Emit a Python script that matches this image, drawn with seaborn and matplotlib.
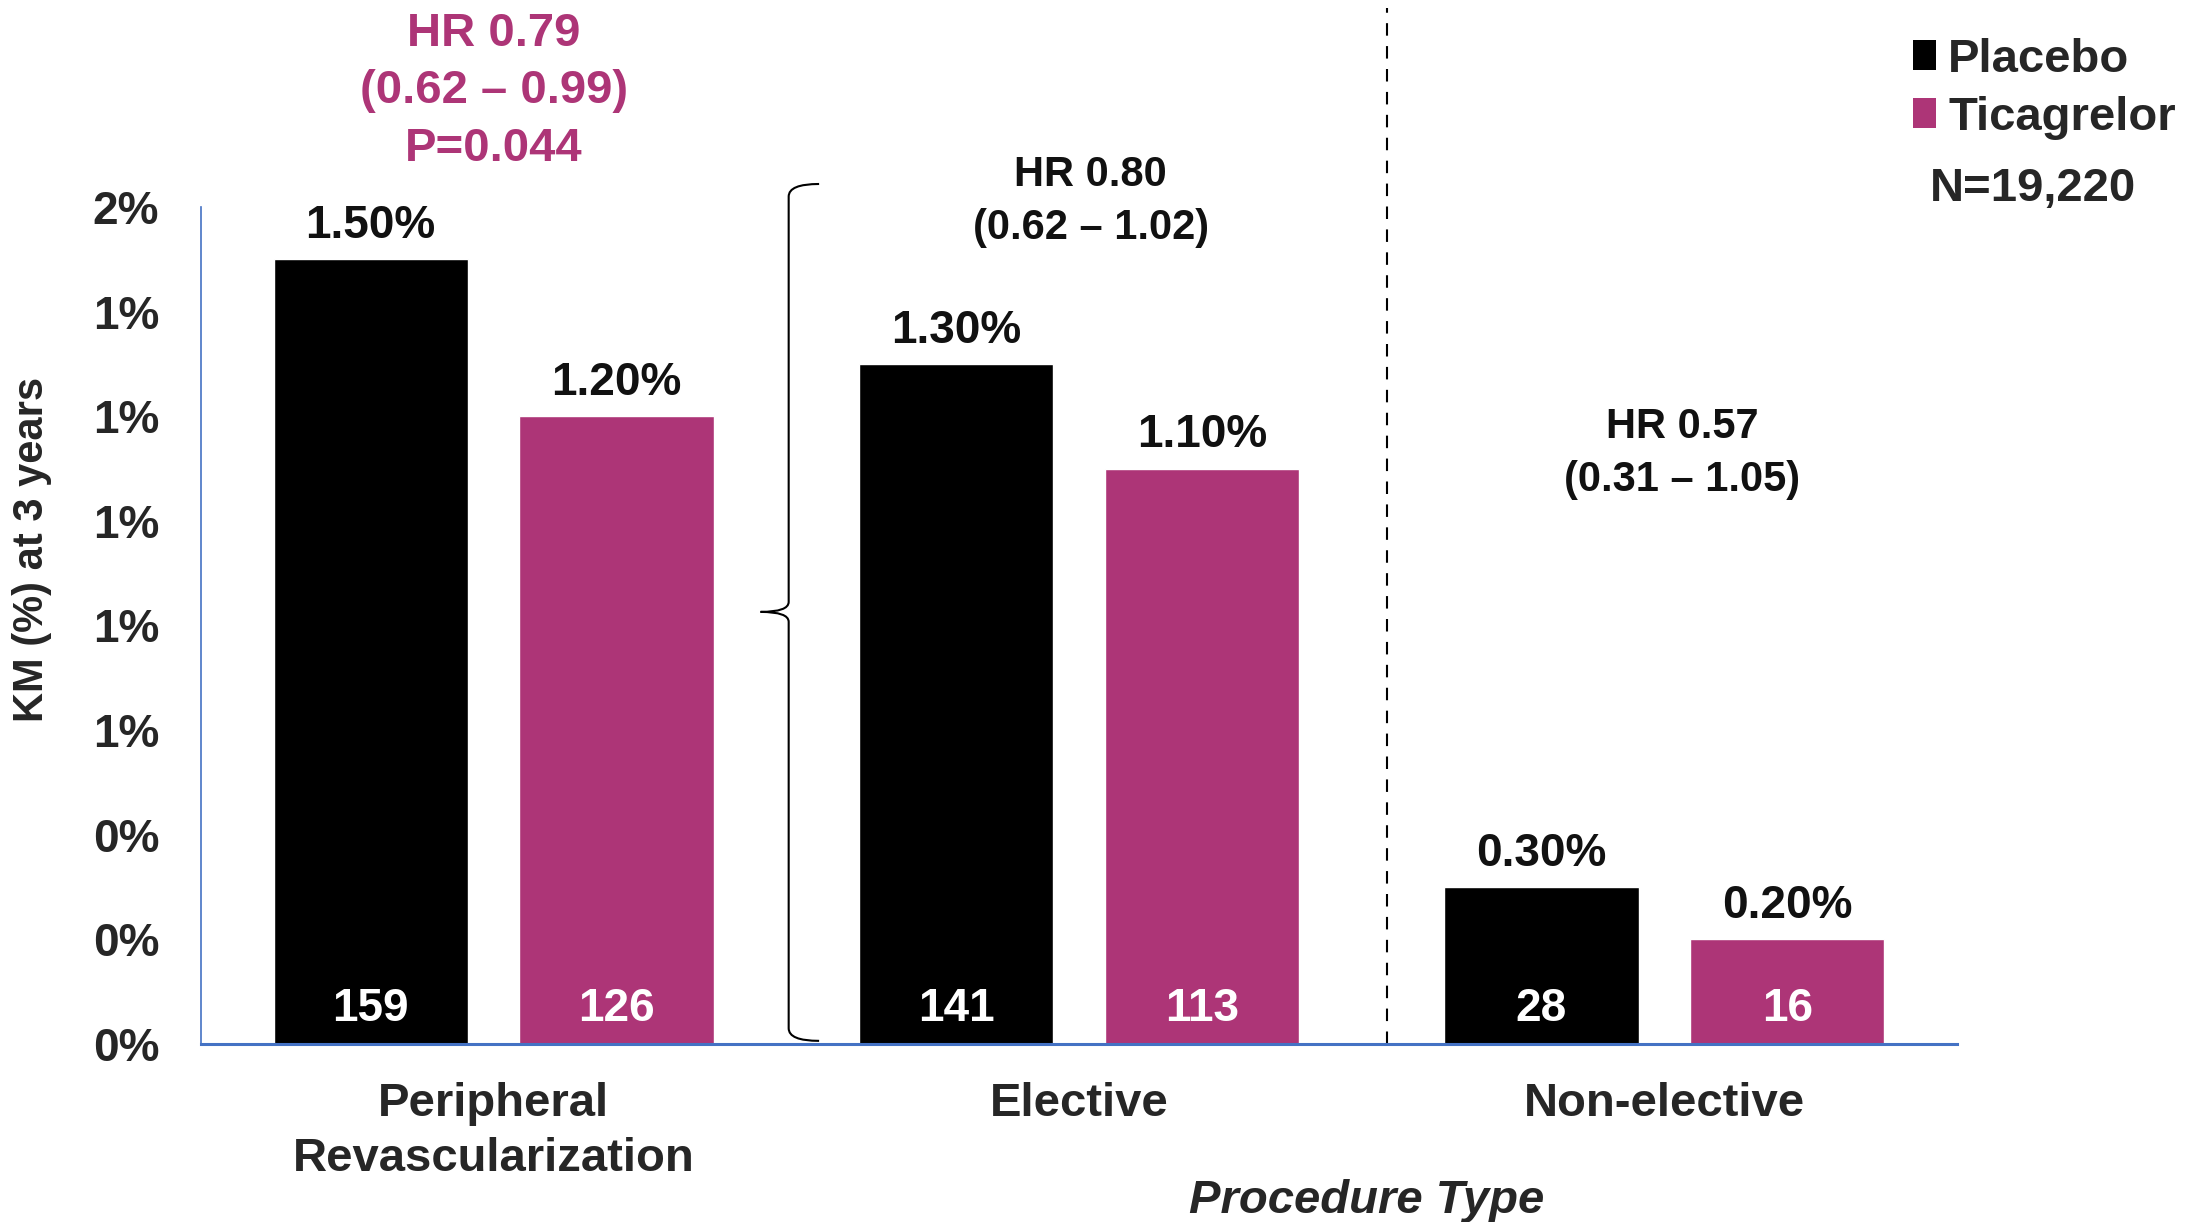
import matplotlib
matplotlib.use("Agg")
import matplotlib.pyplot as plt
import seaborn as sns
import pandas as pd
from matplotlib.patches import Patch, PathPatch
from matplotlib.path import Path

# data
procedures = ["Peripheral\nRevascularization", "Elective", "Non-elective"]
arms = ["Placebo", "Ticagrelor"]
placebo_km = [1.5, 1.3, 0.3]
ticagrelor_km = [1.2, 1.1, 0.2]
placebo_n = [159, 141, 28]
ticagrelor_n = [126, 113, 16]
ytick_values = [0, 0.2, 0.4, 0.6, 0.8, 1.0, 1.2, 1.4, 1.6]
ytick_labels = ["0%", "0%", "0%", "1%", "1%", "1%", "1%", "1%", "2%"]
hr_labels = ["HR 0.79\n(0.62 – 0.99)\nP=0.044", "HR 0.80\n(0.62 – 1.02)", "HR 0.57\n(0.31 – 1.05)"]
total_n = "N=19,220"
colors = ["#000000", "#AD3577"]
axis_blue = "#4472C4"

df = pd.DataFrame({
    "procedure": procedures * 2,
    "arm": [arms[0]] * 3 + [arms[1]] * 3,
    "km": placebo_km + ticagrelor_km,
})

sns.set_style("white")
plt.rcParams["font.family"] = ["Liberation Sans", "DejaVu Sans"]
plt.rcParams["font.weight"] = "bold"

fig = plt.figure(figsize=(22.06, 12.22), dpi=100)
ax = fig.add_axes([201 / 2206, 1 - 1044 / 1222, (1957 - 201) / 2206, (1044 - 207) / 1222])
sns.barplot(data=df, x="procedure", y="km", hue="arm", palette=colors, saturation=1,
            width=0.84, gap=0.21, legend=False, ax=ax)
ax.set_xlim(-0.5, 2.5)
ax.set_ylim(0, 1.6)

# value labels on top and counts inside bars
for cont, vals, ns in zip(ax.containers, [placebo_km, ticagrelor_km], [placebo_n, ticagrelor_n]):
    ax.bar_label(cont, labels=[f"{v:.2f}%" for v in vals], padding=8, fontsize=33,
                 fontweight="bold", color="#111111")
    for bar, n in zip(cont, ns):
        ax.annotate(str(n), (bar.get_x() + bar.get_width() / 2, 0), xytext=(0, 16.5),
                    textcoords="offset points", ha="center", va="baseline",
                    color="white", fontsize=33, fontweight="bold")

# axes styling
ax.set_yticks(ytick_values)
ax.set_yticklabels(ytick_labels, fontsize=33, fontweight="bold")
ax.tick_params(axis="y", length=0, pad=30)
ax.tick_params(axis="x", length=0, pad=27.5, labelsize=34)
for lab in ax.get_xticklabels():
    lab.set_fontweight("bold")
    lab.set_linespacing(1.32)
for s in ["top", "right"]:
    ax.spines[s].set_visible(False)
ax.spines["left"].set_color(axis_blue)
ax.spines["left"].set_linewidth(1.2)
ax.spines["bottom"].set_color(axis_blue)
ax.spines["bottom"].set_linewidth(2.2)

ax.set_ylabel("KM (%) at 3 years", fontsize=30, fontweight="bold")
ax.yaxis.set_label_coords(-0.085, 0.591)
ax.set_xlabel("Procedure Type", fontsize=34, fontweight="bold", fontstyle="italic")
ax.xaxis.set_label_coords(0.664, -0.161)

# hazard ratio annotations
xt = ax.get_xaxis_transform()
ax.text(0, 1.138, hr_labels[0], transform=xt, ha="center", va="center", fontsize=34,
        fontweight="bold", color=colors[1], linespacing=1.39)
ax.text(1.02, 1.006, hr_labels[1], transform=xt, ha="center", va="center", fontsize=30,
        fontweight="bold", color="#111111", linespacing=1.42)
ax.text(2.03, 0.706, hr_labels[2], transform=xt, ha="center", va="center", fontsize=30,
        fontweight="bold", color="#111111", linespacing=1.42)

# dashed separator
ax.plot([1.527, 1.527], [0, 1.238], transform=xt, color="black", lw=1.5,
        ls=(0, (6, 5)), clip_on=False)

# curly brace grouping the first two procedure types
verts = [(0.556, 1.644), (0.504, 1.644), (0.504, 1.62), (0.504, 0.845),
         (0.504, 0.826), (0.456, 0.826), (0.504, 0.826), (0.504, 0.807),
         (0.504, 0.03), (0.504, 0.006), (0.556, 0.006)]
codes = [Path.MOVETO, Path.CURVE3, Path.CURVE3, Path.LINETO,
         Path.CURVE3, Path.CURVE3, Path.CURVE3, Path.CURVE3,
         Path.LINETO, Path.CURVE3, Path.CURVE3]
ax.add_patch(PathPatch(Path(verts, codes), facecolor="none", edgecolor="black",
                       lw=1.5, clip_on=False))

# legend and total N
handles = [Patch(facecolor=c, edgecolor="none") for c in colors]
ax.legend(handles, arms, loc="upper left", bbox_to_anchor=(0.867, 0.969),
          bbox_transform=fig.transFigure, frameon=False, fontsize=34,
          handlelength=0.5, handleheight=0.6, handletextpad=0.25,
          labelspacing=0.3, borderpad=0, borderaxespad=0)
fig.text(0.9216, 0.845, total_n, ha="center", va="center", fontsize=34, fontweight="bold")

fig.savefig("out.png", dpi=100)
